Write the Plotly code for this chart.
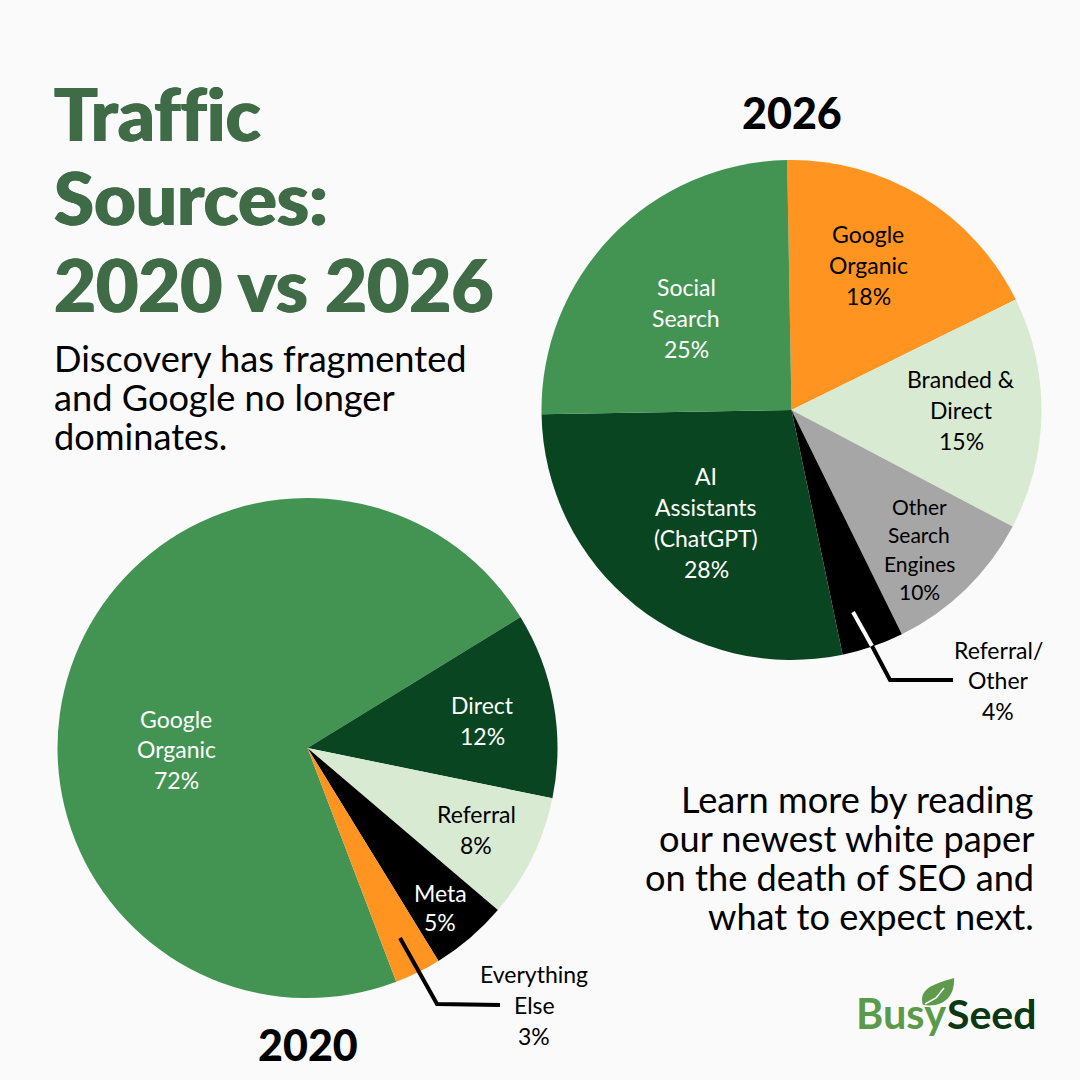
import plotly.graph_objects as go

SIZE = 1080

# slice data
labels_2020 = ["Google Organic", "Direct", "Referral", "Meta", "Everything Else"]
values_2020 = [72, 12, 8, 5, 3]
colors_2020 = ["#439453", "#094520", "#d9ead3", "#000000", "#ff9421"]

labels_2026 = ["Google Organic", "Branded & Direct", "Other Search Engines",
               "Referral/ Other", "AI Assistants (ChatGPT)", "Social Search"]
values_2026 = [18, 15, 10, 4, 28, 25]
colors_2026 = ["#ff9421", "#d9ead3", "#a6a6a6", "#000000", "#094520", "#439453"]

title_lines = ["Traffic", "Sources:", "2020 vs 2026"]
sub_lines = ["Discovery has fragmented", "and Google no longer", "dominates."]
cta_lines = ["Learn more by reading", "our newest white paper",
             "on the death of SEO and", "what to expect next."]


def px(x):
    return x / SIZE


def py(y):
    return 1 - y / SIZE


def pie(labels, values, colors, cx, cy, r, rotation):
    return go.Pie(labels=labels, values=values, sort=False, direction="clockwise",
                  rotation=rotation, textinfo="none", hoverinfo="label+percent",
                  showlegend=False,
                  marker=dict(colors=colors, line=dict(width=0)),
                  domain=dict(x=[px(cx - r), px(cx + r)], y=[py(cy + r), py(cy - r)]))


fig = go.Figure()
fig.add_trace(pie(labels_2020, values_2020, colors_2020, 307.5, 748, 250, 159.2))
fig.add_trace(pie(labels_2026, values_2026, colors_2026, 791.5, 410, 250, -1))


def text(x, y, s, size=23, color="#000000", anchor="center", weight="normal", shadow="none"):
    fig.add_annotation(x=px(x), y=py(y), xref="paper", yref="paper", text=s, showarrow=False,
                       xanchor=anchor, yanchor="middle", align=anchor,
                       font=dict(family="Lato", size=size, color=color, weight=weight, shadow=shadow))


def slice_label(x, ys, lines, color, size=23):
    for y, line in zip(ys, lines):
        text(x, y, line, color=color, size=size)


# headline block, faux-heavier with a thin shadow
heavy = "0.8px 0 0 #3f6b47, -0.8px 0 0 #3f6b47"
for y, line in zip([112, 197, 283], title_lines):
    text(52, y, line, size=72.6, color="#3f6b47", anchor="left", weight=900, shadow=heavy)
for y, line in zip([358, 397, 436], sub_lines):
    text(52, y, line, size=36.2, anchor="left")
for y, line in zip([799, 838, 877, 916], cta_lines):
    text(1036, y, line, size=36.2, anchor="right")

text(792, 112, "2026", size=43, weight=900)
text(308, 1044, "2020", size=43, weight=900)

# 2020 labels
slice_label(176, [719, 749, 780], ["Google", "Organic", "72%"], "#ffffff")
slice_label(482, [705, 736], ["Direct", "12%"], "#ffffff")
slice_label(476, [814, 845], ["Referral", "8%"], "#000000")
slice_label(440, [893, 922], ["Meta", "5%"], "#ffffff")
slice_label(534, [974, 1005, 1036], ["Everything", "Else", "3%"], "#000000")

# 2026 labels
slice_label(868, [234, 265, 296], ["Google", "Organic", "18%"], "#000000")
slice_label(686, [287, 318, 349], ["Social", "Search", "25%"], "#ffffff")
slice_label(961, [379, 410, 441], ["Branded &", "Direct", "15%"], "#000000")
slice_label(706, [476, 507, 538, 569], ["AI", "Assistants", "(ChatGPT)", "28%"], "#ffffff")
slice_label(919, [506, 534, 563, 591], ["Other", "Search", "Engines", "10%"], "#000000", size=21)
slice_label(998, [650, 680, 711], ["Referral/", "Other", "4%"], "#000000")


def path(points, color, width=None):
    d = "M " + " L ".join(f"{px(x):.5f},{py(y):.5f}" for x, y in points)
    fig.add_shape(type="path", path=d, xref="paper", yref="paper", layer="above",
                  line=dict(color=color, width=width or 0), fillcolor="rgba(0,0,0,0)")


# leader lines
path([(400, 938), (437, 1004), (500, 1005)], "#000000", width=4)
path([(853, 612), (872, 646)], "#ffffff", width=4)
path([(872, 646), (890, 680), (953, 680)], "#000000", width=4)

# logo
text(854, 1013, "Busy", size=41.5, color="#5a9a4a", anchor="left", weight="bold")
text(945, 1013, "Seed", size=41, color="#0b3812", anchor="left", weight="bold")
fig.add_shape(type="path", xref="paper", yref="paper", layer="above",
              line=dict(width=0), fillcolor="#5f9a4c",
              path=(f"M {px(923):.5f},{py(1005):.5f} "
                    f"C {px(918):.5f},{py(990):.5f} {px(932):.5f},{py(984):.5f} {px(954):.5f},{py(978):.5f} "
                    f"C {px(955):.5f},{py(995):.5f} {px(945):.5f},{py(1008):.5f} {px(923):.5f},{py(1005):.5f} Z"))
path([(925, 1004), (936, 998), (944, 988)], "#ffffff", width=1.5)

fig.update_layout(width=SIZE, height=SIZE, margin=dict(l=0, r=0, t=0, b=0),
                  paper_bgcolor="#fafafa", plot_bgcolor="#fafafa")

# the page's default body margin would push the figure 8px in; ligatures off for "Traffic"
page_fix = """
document.body.style.margin = '0';
document.body.style.background = '#fafafa';
var st = document.createElement('style');
st.textContent = 'svg text { font-variant-ligatures: none !important; }';
document.head.appendChild(st);
"""
fig.write_html("out.html", config={"displayModeBar": False}, post_script=page_fix)
